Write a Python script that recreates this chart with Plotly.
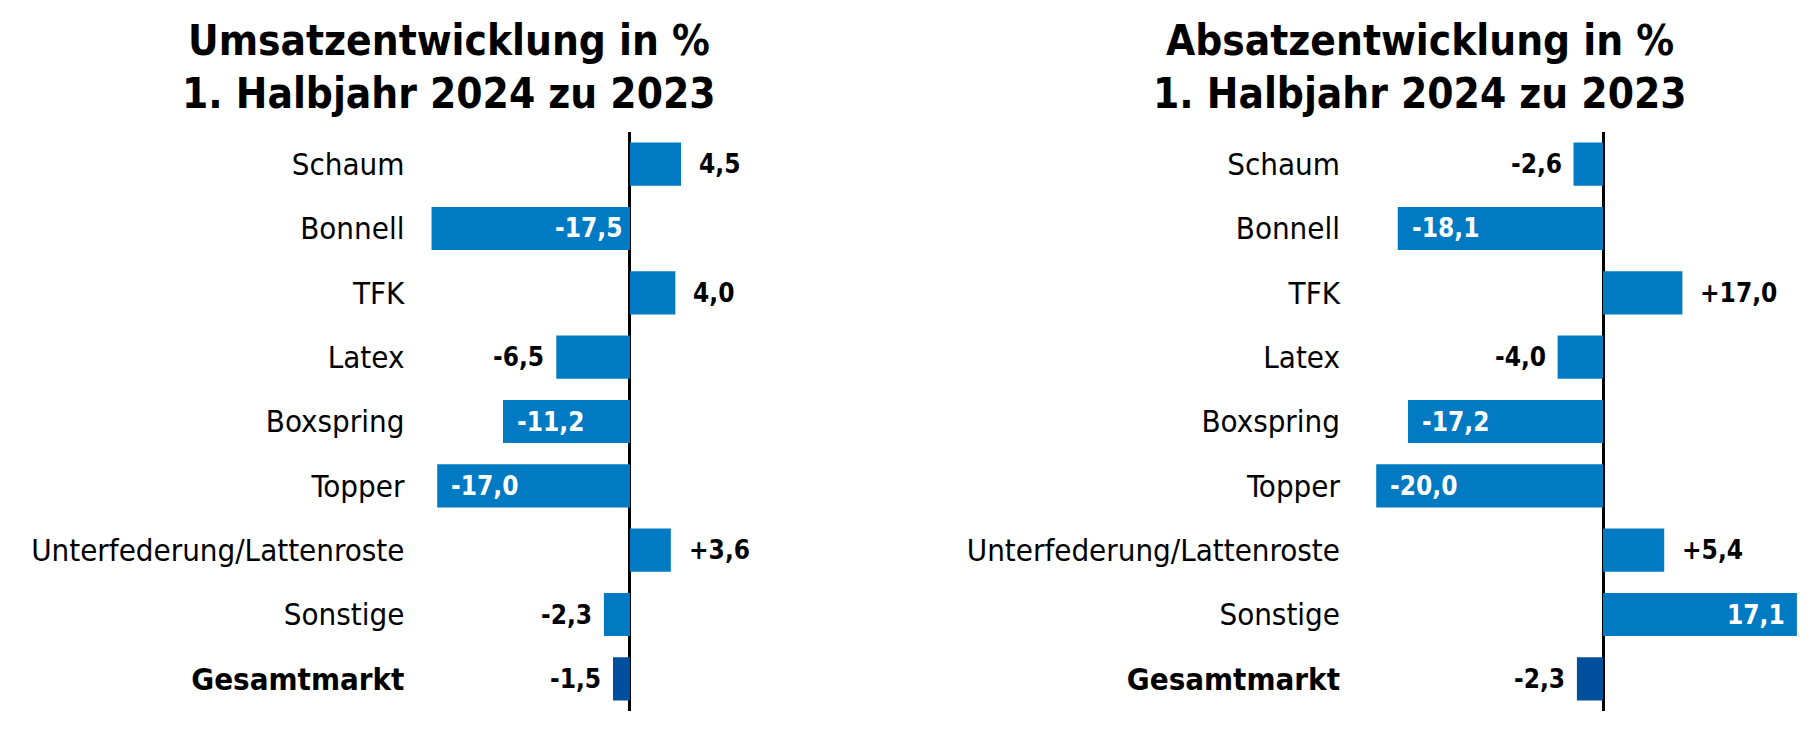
import plotly.graph_objects as go

categories = ["Schaum", "Bonnell", "TFK", "Latex", "Boxspring", "Topper",
              "Unterfederung/Lattenroste", "Sonstige", "Gesamtmarkt"]
umsatz = [4.5, -17.5, 4.0, -6.5, -11.2, -17.0, 3.6, -2.3, -1.5]
# TFK bar is drawn at about 7 units in the source, although its label reads +17,0
absatz = [-2.6, -18.1, 7.0, -4.0, -17.2, -20.0, 5.4, 17.1, -2.3]
umsatz_labels = ["4,5", "-17,5", "4,0", "-6,5", "-11,2", "-17,0", "+3,6", "-2,3", "-1,5"]
absatz_labels = ["-2,6", "-18,1", "+17,0", "-4,0", "-17,2", "-20,0", "+5,4", "17,1", "-2,3"]
# label inside bar? ("end" = at bar end, "base" = near axis, None = outside)
umsatz_inside = [None, "base", None, None, "end", "end", None, None, None]
absatz_inside = [None, "end", None, None, "end", "end", None, "end", None]
titles = [("Umsatzentwicklung in %", "1. Halbjahr 2024 zu 2023"),
          ("Absatzentwicklung in %", "1. Halbjahr 2024 zu 2023")]

BLUE = "#007AC2"
DARK = "#004F9C"
FONT = "Liberation Sans Narrow, DejaVu Sans Condensed, Arial Narrow, sans-serif"

W, H = 1819, 751
colors = [BLUE] * (len(categories) - 1) + [DARK]
ticktext = categories[:-1] + ["<b>" + categories[-1] + "</b>"]

fig = go.Figure()
for i, (vals, xa, ya) in enumerate([(umsatz, "x", "y"), (absatz, "x2", "y2")]):
    fig.add_trace(go.Bar(x=vals, y=categories, orientation="h", marker=dict(color=colors, line=dict(width=0)),
                         xaxis=xa, yaxis=ya, showlegend=False, hoverinfo="skip"))

ann = []
for vals, labels, inside, xr, yr in [(umsatz, umsatz_labels, umsatz_inside, "x", "y"),
                                      (absatz, absatz_labels, absatz_inside, "x2", "y2")]:
    for c, v, lab, ins in zip(categories, vals, labels, inside):
        if ins is None:
            ann.append(dict(x=v, y=c, xref=xr, yref=yr, text="<b>" + lab + "</b>", showarrow=False,
                            xanchor="left" if v > 0 else "right", xshift=16 if v > 0 else -10,
                            font=dict(family=FONT, size=26, color="black")))
        elif ins == "end":
            ann.append(dict(x=v, y=c, xref=xr, yref=yr, text="<b>" + lab + "</b>", showarrow=False,
                            xanchor="left" if v < 0 else "right", xshift=12 if v < 0 else -10,
                            font=dict(family=FONT, size=26, color="white")))
        else:
            ann.append(dict(x=0, y=c, xref=xr, yref=yr, text="<b>" + lab + "</b>", showarrow=False,
                            xanchor="right" if v < 0 else "left", xshift=-6 if v < 0 else 6,
                            font=dict(family=FONT, size=26, color="white")))

for (l1, l2), cx in zip(titles, [449 / W, 1420 / W]):
    ann.append(dict(x=cx, y=1 - 40 / H, xref="paper", yref="paper", text="<b>" + l1 + "</b>", showarrow=False,
                    xanchor="center", yanchor="middle", font=dict(family=FONT, size=42, color="black")))
    ann.append(dict(x=cx, y=1 - 93 / H, xref="paper", yref="paper", text="<b>" + l2 + "</b>", showarrow=False,
                    xanchor="center", yanchor="middle", font=dict(family=FONT, size=42, color="black")))

ppu = 11.34
ax0_left, ax0_right = 630, 1603
xr1 = [-19.1, 10]
xr2 = [-22.4, 18.5]
d1 = [(ax0_left + xr1[0] * ppu) / W, (ax0_left + xr1[1] * ppu) / W]
d2 = [(ax0_right + xr2[0] * ppu) / W, min(1.0, (ax0_right + xr2[1] * ppu) / W)]

top_px, bot_px = 132, 40
ydom = [bot_px / H, 1 - top_px / H]

xcommon = dict(showgrid=False, showticklabels=False, zeroline=True, zerolinecolor="black",
               zerolinewidth=2.5, showline=False, ticks="")
ycommon = dict(showgrid=False, type="category", categoryorder="array", categoryarray=categories,
               autorange=False, range=[len(categories) - 0.5, -0.5], tickmode="array",
               tickvals=categories, ticktext=ticktext, ticks="", showline=False,
               ticklabelstandoff=8,
               tickfont=dict(family=FONT, size=31, color="black"), domain=ydom)

fig.update_layout(
    width=W, height=H, margin=dict(l=0, r=0, t=0, b=0),
    paper_bgcolor="white", plot_bgcolor="white", bargap=0.33,
    xaxis=dict(domain=d1, range=xr1, **xcommon),
    xaxis2=dict(domain=d2, range=xr2, **xcommon),
    yaxis=dict(anchor="x", **ycommon),
    yaxis2=dict(anchor="x2", **ycommon),
    annotations=ann,
)

fig.write_html("out.html", config={"displayModeBar": False},
               post_script="document.body.style.margin='0';")
